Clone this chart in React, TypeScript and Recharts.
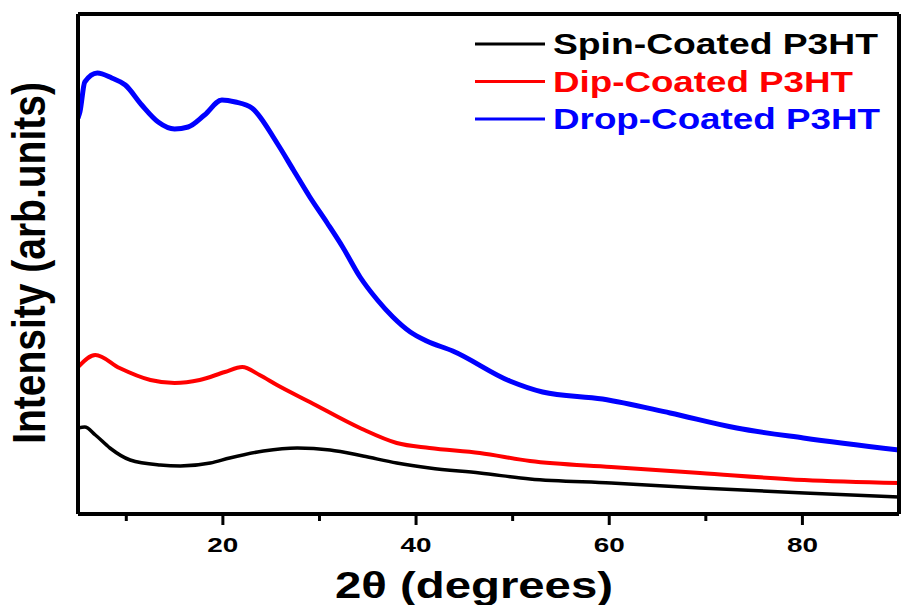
import React from "react";
import { LineChart, Line, XAxis, YAxis, Legend } from "recharts";

// values (arb. units, 0 = bottom of frame, 100 = top)
const spinTheta = [5.0, 5.7, 6.8, 8.3, 10.4, 13.5, 15.6, 18.7, 20.7, 24.2, 27.7, 31.1, 34.5, 38.0, 41.4, 46.6, 51.8, 60.2, 69.4, 80.2, 90.0];
const spinIntensity = [17.2, 17.4, 15.8, 13.2, 10.8, 9.8, 9.6, 10.2, 11.2, 12.6, 13.2, 12.8, 11.6, 10.2, 9.2, 8.2, 7.0, 6.2, 5.2, 4.2, 3.4];

const dipTheta = [5.0, 6.8, 9.3, 12.5, 15.0, 17.6, 20.2, 22.0, 23.8, 25.6, 29.0, 34.3, 38.0, 41.4, 46.6, 51.8, 60.2, 69.4, 80.2, 90.0];
const dipIntensity = [29.4, 31.8, 29.2, 26.8, 26.2, 26.8, 28.4, 29.4, 27.8, 25.8, 22.4, 17.1, 14.2, 13.2, 12.2, 10.6, 9.4, 8.2, 6.8, 6.2];

const dropTheta = [5.0, 5.2, 5.7, 7.0, 8.5, 9.9, 11.6, 13.3, 15.0, 16.4, 18.1, 19.9, 21.3, 23.0, 25.6, 27.3, 29.0, 30.8, 32.4, 34.2, 36.0, 37.6, 39.4, 41.1, 43.8, 49.7, 53.1, 59.3, 66.3, 73.2, 80.1, 90.0];
const dropIntensity = [79.2, 80.4, 86.4, 88.2, 87.2, 85.8, 81.8, 78.4, 77.0, 77.4, 79.8, 82.8, 82.4, 81.2, 74.2, 68.8, 63.4, 58.2, 53.4, 47.4, 42.8, 39.4, 36.4, 34.6, 32.6, 26.6, 24.4, 23.0, 20.2, 17.2, 15.2, 12.8];

const xTicks = [10, 20, 30, 40, 50, 60, 70, 80];
const majorTicks = [20, 40, 60, 80];
const seriesNames = ["Spin-Coated P3HT", "Dip-Coated P3HT", "Drop-Coated P3HT"];

const toRows = (theta: number[], values: number[]) =>
  theta.map((t, i) => ({ theta: t, v: values[i] }));

const spinData = toRows(spinTheta, spinIntensity);
const dipData = toRows(dipTheta, dipIntensity);
const dropData = toRows(dropTheta, dropIntensity);

const FONT = "'Liberation Sans', Arial, sans-serif";
const frame = { stroke: "#000", strokeWidth: 4 };

const XTick = (props: any) => {
  const { x, y, payload } = props;
  const major = majorTicks.includes(payload.value);
  return (
    <g>
      <line x1={x} x2={x} y1={y} y2={y + (major ? 11 : 7)} stroke="#000" strokeWidth={3} />
      {major && (
        <text
          x={x}
          y={y + 38}
          textAnchor="middle"
          fontFamily={FONT}
          fontWeight="bold"
          fontSize={21}
          textLength={31}
          lengthAdjust="spacingAndGlyphs"
          fill="#000"
        >
          {payload.value}
        </text>
      )}
    </g>
  );
};

// legend text widths (the original is stretched sideways)
const legendWidths = [325, 300, 327];

const renderLegend = (props: any) => {
  const items = [...(props.payload || [])].sort(
    (a: any, b: any) => seriesNames.indexOf(a.value) - seriesNames.indexOf(b.value)
  );
  return (
    <svg width={901} height={140} style={{ display: "block" }}>
      {items.map((entry: any, i: number) => {
        const cy = 44 + i * 37.5;
        return (
          <g key={entry.value}>
            <line x1={475} x2={545} y1={cy} y2={cy} stroke={entry.color} strokeWidth={3} />
            <text
              x={553}
              y={cy + 10}
              fontFamily={FONT}
              fontWeight="bold"
              fontSize={30}
              fill={entry.color}
              textLength={legendWidths[i]}
              lengthAdjust="spacingAndGlyphs"
            >
              {entry.value}
            </text>
          </g>
        );
      })}
    </svg>
  );
};

export default function App() {
  return (
    <div style={{ position: "absolute", left: 0, top: 0, background: "#fff" }}>
      <LineChart width={901} height={605} margin={{ top: 13, right: 1, bottom: 90, left: 77 }}>
        <XAxis
          dataKey="theta"
          type="number"
          domain={[5, 90]}
          allowDataOverflow
          ticks={xTicks}
          height={1}
          tickSize={0}
          tickMargin={0}
          tickLine={false}
          axisLine={frame}
          tick={<XTick />}
          interval={0}
          label={() => (
            <text
              x={335}
              y={598}
              fontFamily={FONT}
              fontWeight="bold"
              fontSize={36}
              textLength={278}
              lengthAdjust="spacingAndGlyphs"
              fill="#000"
            >
              2θ (degrees)
            </text>
          )}
        />
        <XAxis
          xAxisId="top"
          orientation="top"
          type="number"
          domain={[5, 90]}
          height={1}
          tick={false}
          tickLine={false}
          axisLine={frame}
        />
        <YAxis
          type="number"
          domain={[0, 100]}
          width={1}
          tick={false}
          tickLine={false}
          axisLine={frame}
          label={() => (
            <text
              transform="translate(45,263) scale(1.18,1) rotate(-90)"
              textAnchor="middle"
              fontFamily={FONT}
              fontWeight="bold"
              fontSize={39}
              fill="#000"
            >
              Intensity (arb.units)
            </text>
          )}
        />
        <YAxis
          yAxisId="right"
          orientation="right"
          type="number"
          domain={[0, 100]}
          width={1}
          tick={false}
          tickLine={false}
          axisLine={frame}
        />
        <Legend
          layout="vertical"
          align="center"
          verticalAlign="middle"
          content={renderLegend}
          wrapperStyle={{ left: 0, top: 0, width: 901, height: 140 }}
        />
        <Line
          data={spinData}
          dataKey="v"
          name="Spin-Coated P3HT"
          type="monotone"
          stroke="#000000"
          strokeWidth={3.5}
          dot={false}
          isAnimationActive={false}
        />
        <Line
          data={dipData}
          dataKey="v"
          name="Dip-Coated P3HT"
          type="monotone"
          stroke="#ff0000"
          strokeWidth={4}
          dot={false}
          isAnimationActive={false}
        />
        <Line
          data={dropData}
          dataKey="v"
          name="Drop-Coated P3HT"
          type="monotone"
          stroke="#0000ff"
          strokeWidth={5}
          dot={false}
          isAnimationActive={false}
        />
      </LineChart>
    </div>
  );
}
